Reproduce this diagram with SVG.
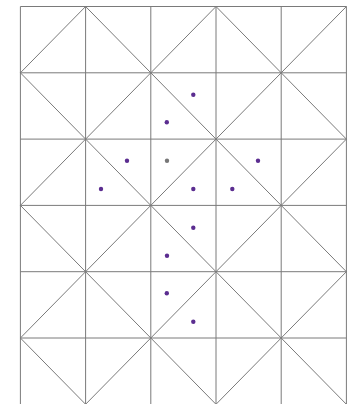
<svg xmlns="http://www.w3.org/2000/svg" width="356" height="404" viewBox="0 0 356 404">
<style>
.g line{stroke:#7a7a7a;stroke-width:1;fill:none}
.d{fill:#5b2d90}
.c{fill:#777777}
</style>
<rect width="356" height="404" fill="#ffffff"/>
<g id="grid" class="g">
<line x1="20.4" y1="6.5" x2="20.4" y2="404.3"/>
<line x1="85.6" y1="6.5" x2="85.6" y2="404.3"/>
<line x1="150.8" y1="6.5" x2="150.8" y2="404.3"/>
<line x1="216" y1="6.5" x2="216" y2="404.3"/>
<line x1="281.2" y1="6.5" x2="281.2" y2="404.3"/>
<line x1="346.4" y1="6.5" x2="346.4" y2="404.3"/>
<line x1="20.4" y1="6.5" x2="346.4" y2="6.5"/>
<line x1="20.4" y1="72.8" x2="346.4" y2="72.8"/>
<line x1="20.4" y1="139.1" x2="346.4" y2="139.1"/>
<line x1="20.4" y1="205.4" x2="346.4" y2="205.4"/>
<line x1="20.4" y1="271.7" x2="346.4" y2="271.7"/>
<line x1="20.4" y1="338" x2="346.4" y2="338"/>
</g>
<g id="diagonals" class="g">
<line x1="85.6" y1="6.5" x2="20.4" y2="72.8"/>
<line x1="216" y1="6.5" x2="20.4" y2="205.4"/>
<line x1="346.4" y1="6.5" x2="20.4" y2="338"/>
<line x1="346.4" y1="139.1" x2="85.6" y2="404.3"/>
<line x1="346.4" y1="271.7" x2="216" y2="404.3"/>
<line x1="85.6" y1="6.5" x2="346.4" y2="271.7"/>
<line x1="216" y1="6.5" x2="346.4" y2="139.1"/>
<line x1="20.4" y1="72.8" x2="346.4" y2="404.3"/>
<line x1="20.4" y1="205.4" x2="216" y2="404.3"/>
<line x1="20.4" y1="338" x2="85.6" y2="404.3"/>
</g>
<g id="points">
<circle class="d" cx="193.3" cy="94.7" r="2.2"/>
<circle class="d" cx="166.8" cy="122.3" r="2.2"/>
<circle class="d" cx="127" cy="160.7" r="2.2"/>
<circle class="c" cx="167" cy="160.7" r="2.2"/>
<circle class="d" cx="258" cy="160.7" r="2.2"/>
<circle class="d" cx="101" cy="189" r="2.2"/>
<circle class="d" cx="193.3" cy="189" r="2.2"/>
<circle class="d" cx="232.3" cy="189" r="2.2"/>
<circle class="d" cx="193.3" cy="227.7" r="2.2"/>
<circle class="d" cx="167" cy="255.8" r="2.2"/>
<circle class="d" cx="166.8" cy="293.3" r="2.2"/>
<circle class="d" cx="193.3" cy="321.7" r="2.2"/>
</g>
</svg>
